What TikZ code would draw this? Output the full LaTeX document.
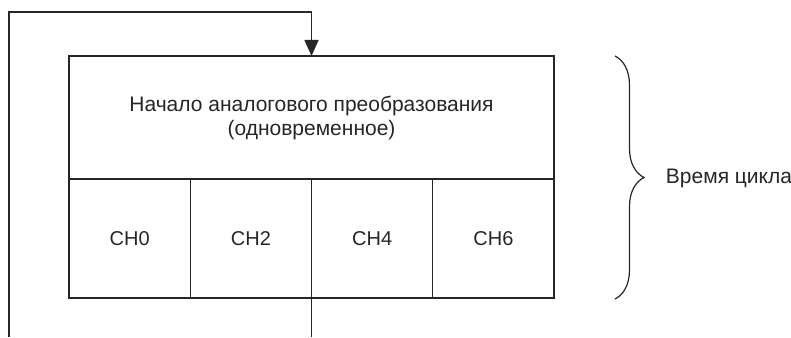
\documentclass[tikz,border=0pt]{standalone}
\usepackage{fontspec}
\setmainfont{Liberation Sans}
\usetikzlibrary{arrows.meta, decorations.pathreplacing}

\begin{document}
\begin{tikzpicture}[x=1pt, y=-1pt, node distance=121.25pt, color=black!85, line width=1.2pt,
  cell/.style={rectangle, draw, minimum width=121.25pt, minimum height=119pt, inner sep=0pt, outer sep=0pt, font=\fontsize{20}{24}\selectfont}]
  \useasboundingbox (0,0) rectangle (791,337);
  \node (start) [rectangle, draw, minimum width=485pt, minimum height=123pt, outer sep=0pt, align=center, font=\fontsize{21}{24}\selectfont] at (311.5,117.5) {Начало аналогового преобразования\\(одновременное)};
  \node (ch0) [cell, anchor=north west] at (start.south west) {CH0};
  \node (ch2) [cell, right of=ch0] {CH2};
  \node (ch4) [cell, right of=ch2] {CH4};
  \node (ch6) [cell, right of=ch4] {CH6};
  \coordinate (back) at (9,337);
  \coordinate (next) at (ch4.south west |- back);
  \draw[-{Triangle[length=16pt, width=14pt]}] (back) |- (start.north |- 0,12) -- (start.north);
  \draw (ch4.south west) -- (next);
  % cycle time
  \draw[decorate, decoration={brace, amplitude=29pt}] (615,56) -- (615,299);
  \node (cycle) [anchor=west, font=\fontsize{21}{24}\selectfont] at (662,178) {Время цикла};
\end{tikzpicture}
\end{document}
